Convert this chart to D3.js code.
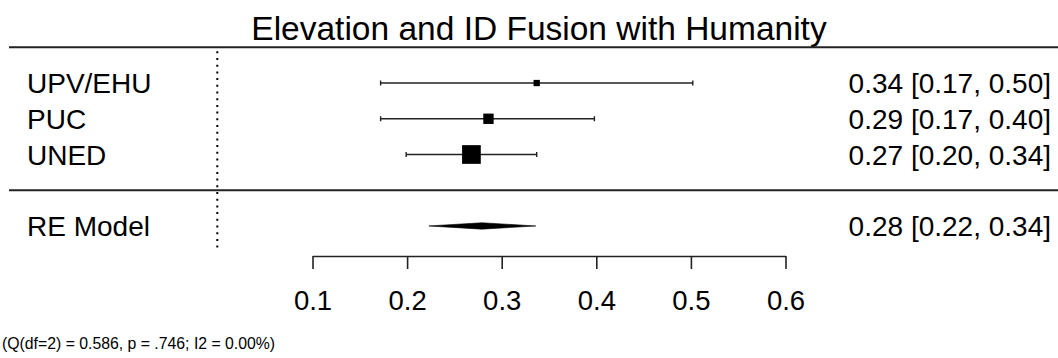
<!DOCTYPE html>
<html>
<head>
<meta charset="utf-8">
<script src="https://cdn.jsdelivr.net/npm/d3@7"></script>
<style>
  html, body { margin: 0; padding: 0; background: #fff; }
  svg { display: block; font-family: "Liberation Sans", Arial, Helvetica, sans-serif; }
</style>
</head>
<body>
<svg id="chart" width="1058" height="358"></svg>
<script>
// ---- data ----
const studies = ["UPV/EHU", "PUC", "UNED"];
const estimates = [0.337, 0.286, 0.268];
const ciLower = [0.172, 0.172, 0.199];
const ciUpper = [0.502, 0.398, 0.337];
const weights = [11.8, 24.3, 63.9];
const estLabels = ["0.34 [0.17, 0.50]", "0.29 [0.17, 0.40]", "0.27 [0.20, 0.34]"];
const summaryLabel = "RE Model";
const summaryEst = 0.279;
const summaryLower = 0.223;
const summaryUpper = 0.336;
const summaryText = "0.28 [0.22, 0.34]";
const tickValues = [0.1, 0.2, 0.3, 0.4, 0.5, 0.6];
const titleText = "Elevation and ID Fusion with Humanity";
const footerText = "(Q(df=2) = 0.586, p = .746; I2 = 0.00%)";

// ---- layout ----
const W = 1058, H = 358;
const svg = d3.select("#chart");
const x = d3.scaleLinear().domain([0.1, 0.6]).range([312.5, 785.5]);
// row index -> y (top row = 6)
const y = d3.scaleLinear().domain([0, 6]).range([261.7, 47.3]);
const studyRows = [5, 4, 3];
const summaryRow = 1;
const size = d3.scaleLinear()
  .domain(d3.extent(weights, w => Math.sqrt(w)))
  .range([6.3, 18.7]);

const ink = "#000";
const fs = 28;

// title
svg.append("text")
  .attr("x", 539).attr("y", 40)
  .attr("text-anchor", "middle")
  .attr("font-size", 33.5)
  .attr("fill", ink)
  .text(titleText);

// horizontal separators
[6, 2].forEach(r => {
  svg.append("line")
    .attr("x1", 9).attr("x2", W)
    .attr("y1", y(r)).attr("y2", y(r))
    .attr("stroke", "#222").attr("stroke-width", 2);
});

// dotted vertical line
svg.append("line")
  .attr("x1", 217.3).attr("x2", 217.3)
  .attr("y1", y(6) + 4).attr("y2", 252)
  .attr("stroke", ink).attr("stroke-width", 2)
  .attr("stroke-dasharray", "2,4.7");

// study rows
const g = svg.append("g");
studies.forEach((s, i) => {
  const yy = y(studyRows[i]);
  g.append("text").attr("x", 27).attr("y", yy).attr("dy", "0.36em")
    .attr("font-size", fs).attr("fill", ink).text(s);
  g.append("text").attr("x", 1051).attr("y", yy).attr("dy", "0.36em")
    .attr("text-anchor", "end")
    .attr("font-size", fs).attr("fill", ink).text(estLabels[i]);
  g.append("line")
    .attr("x1", x(ciLower[i])).attr("x2", x(ciUpper[i]))
    .attr("y1", yy).attr("y2", yy)
    .attr("stroke", "#222").attr("stroke-width", 1.6);
  [ciLower[i], ciUpper[i]].forEach(v => {
    g.append("line")
      .attr("x1", x(v)).attr("x2", x(v))
      .attr("y1", yy - 2.5).attr("y2", yy + 2.5)
      .attr("stroke", "#222").attr("stroke-width", 1.4);
  });
  const sz = size(Math.sqrt(weights[i]));
  g.append("rect")
    .attr("x", x(estimates[i]) - sz / 2).attr("y", yy - sz / 2)
    .attr("width", sz).attr("height", sz)
    .attr("fill", ink);
});

// summary row
const ys = y(summaryRow);
svg.append("text").attr("x", 27).attr("y", ys).attr("dy", "0.36em")
  .attr("font-size", fs).attr("fill", ink).text(summaryLabel);
svg.append("text").attr("x", 1051).attr("y", ys).attr("dy", "0.36em")
  .attr("text-anchor", "end")
  .attr("font-size", fs).attr("fill", ink).text(summaryText);
svg.append("path")
  .attr("d", d3.line()([
    [x(summaryLower), ys],
    [x(summaryEst), ys - 3.2],
    [x(summaryUpper), ys],
    [x(summaryEst), ys + 3.2]
  ]) + "Z")
  .attr("fill", ink).attr("stroke", ink).attr("stroke-width", 0.6);

// x axis
const axisY = 256;
const axis = svg.append("g")
  .attr("transform", `translate(0,${axisY})`)
  .call(d3.axisBottom(x).tickValues(tickValues).tickSize(13).tickSizeOuter(0)
    .tickFormat(d3.format(".1f")));
axis.select(".domain").attr("stroke", "#222").attr("stroke-width", 1.6);
axis.selectAll(".tick line").attr("stroke", "#222").attr("stroke-width", 1.6);
axis.selectAll(".tick text")
  .attr("font-size", 27.5).attr("fill", ink)
  .attr("font-family", "Liberation Sans, Arial, sans-serif")
  .attr("y", 0).attr("dy", null)
  .attr("transform", "translate(0,54)");

// footer
svg.append("text")
  .attr("x", 2).attr("y", 349)
  .attr("font-size", 15.8).attr("fill", ink)
  .text(footerText);
</script>
</body>
</html>
